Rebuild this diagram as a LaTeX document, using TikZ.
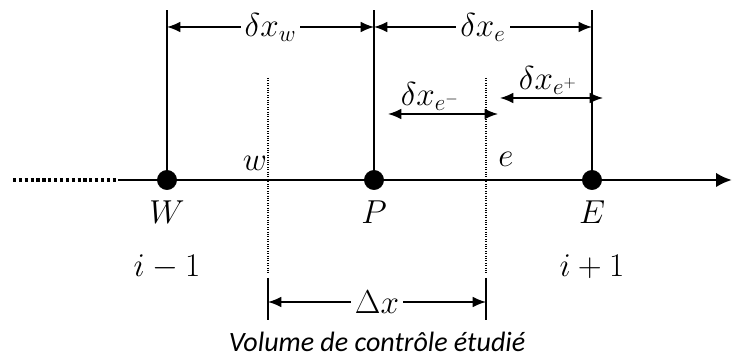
\documentclass[tikz,border=0pt]{standalone}
\usepackage{fontspec}
\newfontfamily\capfont{Carlito}
\usetikzlibrary{arrows.meta}

\begin{document}
\begin{tikzpicture}[x=0.75pt,y=-0.75pt,
	gridpt/.style={ circle, draw, fill, inner sep=0pt, minimum size=14.5pt },
	dimline/.style={ line width=1.1pt, {Latex[length=10pt,width=8pt]}-{Latex[length=10pt,width=8pt]} },
	dimlab/.style={ fill=white, inner sep=3pt, font=\fontsize{26}{30}\selectfont },
	smalllab/.style={ inner sep=0pt, font=\fontsize{23}{27}\selectfont },
	ptlab/.style={ font=\fontsize{27}{32}\selectfont },
	face/.style={ densely dotted, line width=0.8pt }
]
\useasboundingbox (0,0) rectangle (733,359);

% axis
\coordinate (ax0) at (13,180);
\coordinate (ax1) at (118,180);
\coordinate (ax2) at (732,180);
\draw[line width=2.4pt, dotted] (ax0) -- (ax1);
\draw[line width=2.2pt, -{Latex[length=12pt,width=11pt]}] (ax1) -- (ax2);

% grid points
\node[gridpt] at (167,180) (pW) {};
\node[gridpt] at (374,180) (pP) {};
\node[gridpt] at (592,180) (pE) {};
\coordinate (tW) at (167,10);
\coordinate (tP) at (374,10);
\coordinate (tE) at (592,10);
\foreach \p in {W,P,E} \draw[line width=1.1pt] (p\p.center) -- (t\p);

\node[ptlab] at (167,212) (lW) {$W$};
\node[ptlab] at (374,212) (lP) {$P$};
\node[ptlab] at (592,212) (lE) {$E$};
\node[ptlab] at (167,267) (iW) {$i-1$};
\node[ptlab] at (592,267) (iE) {$i+1$};
\node[ptlab] at (255,163) (fw) {$w$};
\node[ptlab] at (506,159) (fe) {$e$};
\node[ptlab, anchor=west] at (728,207) (lx) {$x$};

% faces
\coordinate (w1) at (268,78);
\coordinate (w2) at (268,274);
\coordinate (e1) at (486,78);
\coordinate (e2) at (486,274);
\draw[face] (w1) -- (w2);
\draw[face] (e1) -- (e2);

% distances between nodes
\coordinate (aW) at (167,27);
\coordinate (aP) at (374,27);
\coordinate (aE) at (592,27);
\draw[dimline] (aW) -- node[dimlab] (dw) {$\delta x_w$} (aP);
\draw[dimline] (aP) -- node[dimlab] (de) {$\delta x_e$} (aE);

\coordinate (m1) at (388,114);
\coordinate (m2) at (498,114);
\draw[dimline] (m1) -- (m2);
\node[smalllab] at (430,96) (dem) {$\delta x_{e^-}$};
\coordinate (n1) at (500,98);
\coordinate (n2) at (603,98);
\draw[dimline] (n1) -- (n2);
\node[smalllab] at (548,80) (dep) {$\delta x_{e^+}$};

% control volume
\coordinate (v1) at (268,278);
\coordinate (v2) at (268,320);
\coordinate (v3) at (486,278);
\coordinate (v4) at (486,320);
\draw[line width=0.8pt] (v1) -- (v2);
\draw[line width=0.8pt] (v3) -- (v4);
\coordinate (b1) at (268,302);
\coordinate (b2) at (486,302);
\draw[dimline] (b1) -- node[dimlab] (dx) {$\Delta x$} (b2);

\node[font=\capfont\itshape\fontsize{21}{25}\selectfont] at (377,342) (cap) {Volume de contrôle étudié};
\end{tikzpicture}
\end{document}
